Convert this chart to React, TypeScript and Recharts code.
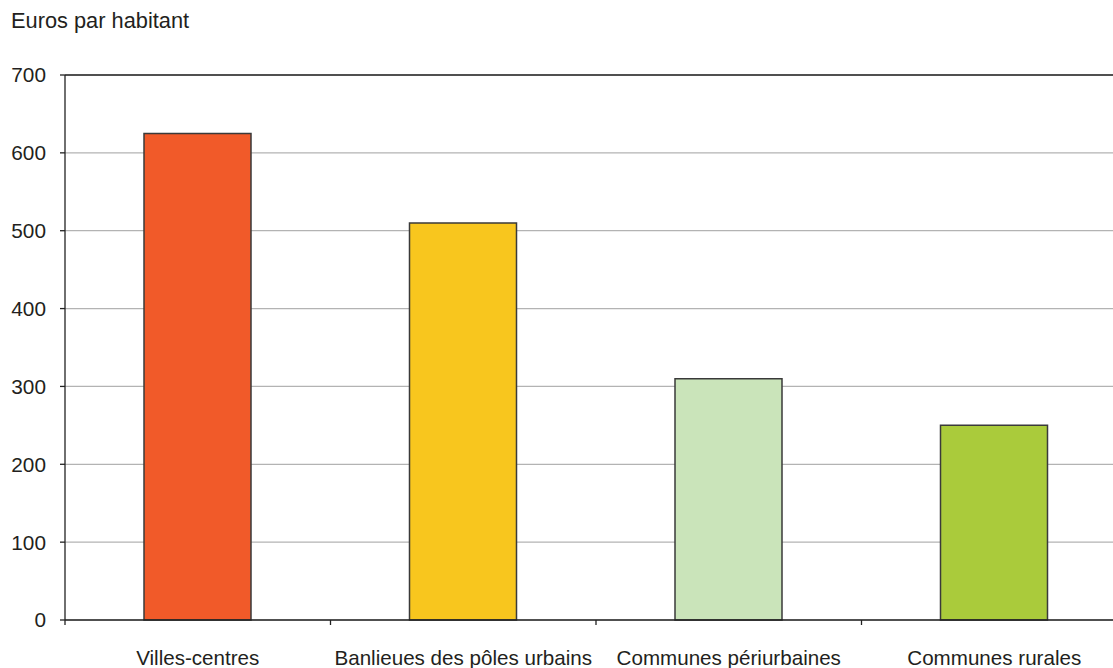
import { Bar, BarChart, CartesianGrid, Cell, ReferenceLine, XAxis, YAxis } from "recharts"

const categories = ["Villes-centres", "Banlieues des pôles urbains", "Communes périurbaines", "Communes rurales"]
const values = [625, 510, 310, 250]
const colors = ["#F15A29", "#F8C61E", "#CAE4BA", "#AACB3B"]
const yTicks = [0, 100, 200, 300, 400, 500, 600, 700]

const data = categories.map((name, i) => ({ name, value: values[i] }))

const FONT = '"Liberation Sans", Arial, sans-serif'

const CategoryTick = (props: any) => {
	const { x, y, payload } = props
	const edge = x - (payload.offset ?? 0)
	return (
		<g>
			<line x1={edge} x2={edge} y1={y} y2={y + 5} stroke="#222" strokeWidth={1.3} />
			<text x={x} y={y + 45} textAnchor="middle" fill="#231f20" fontSize={20.6} fontFamily={FONT}>
				{payload.value}
			</text>
		</g>
	)
}

const App = () => {
	return (
		<div style={{ position: "absolute", left: 0, top: 0, width: 1113, height: 668, overflow: "hidden", background: "#fff" }}>
			<div
				style={{
					position: "absolute",
					left: 11,
					top: 9,
					fontFamily: FONT,
					fontSize: 21.8,
					lineHeight: "24px",
					color: "#231f20",
				}}
			>
				Euros par habitant
			</div>
			<BarChart width={1130} height={668} data={data} margin={{ top: 75, right: 3, left: 0, bottom: 0 }}>
				<CartesianGrid vertical={false} stroke="#b3b3b3" strokeWidth={1.2} />
				<XAxis
					dataKey="name"
					height={48}
					axisLine={{ stroke: "#222", strokeWidth: 1.3 }}
					tickLine={false}
					tickSize={0}
					tickMargin={0}
					interval={0}
					tick={<CategoryTick />}
				/>
				<YAxis
					width={65}
					domain={[0, 700]}
					ticks={yTicks}
					interval={0}
					tickSize={5}
					tickMargin={14}
					axisLine={{ stroke: "#222", strokeWidth: 1.3 }}
					tickLine={{ stroke: "#222", strokeWidth: 1.3 }}
					tick={{ fill: "#231f20", fontSize: 20.8, fontFamily: FONT }}
				/>
				<ReferenceLine y={700} stroke="#222" strokeWidth={1.3} />
				<Bar dataKey="value" barSize={107} stroke="#3a3a3a" strokeWidth={1.5} isAnimationActive={false}>
					{data.map((d, i) => (
						<Cell key={d.name} fill={colors[i]} />
					))}
				</Bar>
			</BarChart>
		</div>
	)
}

export default App
